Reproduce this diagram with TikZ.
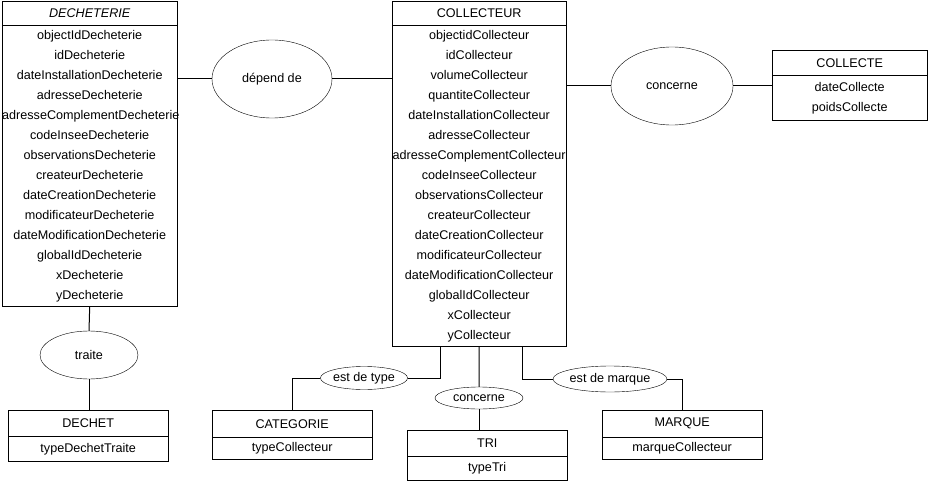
\documentclass[tikz,border=0pt]{standalone}
\usepackage{fontspec}
\setmainfont{Liberation Sans}
\usetikzlibrary{positioning, calc, shapes.geometric}

\tikzset{
  entete/.style={draw, inner sep=0pt, anchor=north west, font=\fontsize{12.6}{14}\selectfont},
  attributs/.style={draw, inner xsep=0pt, inner ysep=0pt, align=center, anchor=north, font=\fontsize{12.6}{20}\selectfont},
  asso/.style={draw, ellipse, inner sep=0pt, fill=white, font=\fontsize{12.6}{14}\selectfont},
  lien/.style={line width=1pt}
}

\begin{document}
\begin{tikzpicture}[x=1pt, y=-1pt]
  \useasboundingbox (0,0) rectangle (947,481);

  % entites
  \node[entete, minimum width=175pt, minimum height=24pt] (decheterie) at (2,1) {\itshape DECHETERIE};
  \node[attributs, text width=175pt, minimum height=281pt] (decheterie-att) at (decheterie.south)
    {objectIdDecheterie\\ idDecheterie\\ dateInstallationDecheterie\\ adresseDecheterie\\
     adresseComplementDecheterie\\ codeInseeDecheterie\\ observationsDecheterie\\ createurDecheterie\\
     dateCreationDecheterie\\ modificateurDecheterie\\ dateModificationDecheterie\\ globalIdDecheterie\\
     xDecheterie\\ yDecheterie};

  \node[entete, minimum width=174pt, minimum height=24pt] (collecteur) at (392,1) {COLLECTEUR};
  \node[attributs, text width=174pt, minimum height=321pt] (collecteur-att) at (collecteur.south)
    {objectidCollecteur\\ idCollecteur\\ volumeCollecteur\\ quantiteCollecteur\\
     dateInstallationCollecteur\\ adresseCollecteur\\ adresseComplementCollecteur\\ codeInseeCollecteur\\
     observationsCollecteur\\ createurCollecteur\\ dateCreationCollecteur\\ modificateurCollecteur\\
     dateModificationCollecteur\\ globalIdCollecteur\\ xCollecteur\\ yCollecteur};

  \node[entete, minimum width=155pt, minimum height=25pt] (collecte) at (772,50) {COLLECTE};
  \node[attributs, text width=155pt, minimum height=45pt] (collecte-att) at (collecte.south)
    {dateCollecte\\ poidsCollecte};

  \node[entete, minimum width=160pt, minimum height=26pt] (dechet) at (8,410) {DECHET};
  \node[attributs, text width=160pt, minimum height=25pt] (dechet-att) at (dechet.south) {typeDechetTraite};

  \node[entete, minimum width=160pt, minimum height=27pt] (categorie) at (212,410) {CATEGORIE};
  \node[attributs, text width=160pt, minimum height=22pt] (categorie-att) at (categorie.south) {typeCollecteur};

  \node[entete, minimum width=160pt, minimum height=26pt] (tri) at (407,430) {TRI};
  \node[attributs, text width=160pt, minimum height=24pt] (tri-att) at (tri.south) {typeTri};

  \node[entete, minimum width=160pt, minimum height=27pt] (marque) at (602,410) {MARQUE};
  \node[attributs, text width=160pt, minimum height=22pt] (marque-att) at (marque.south) {marqueCollecteur};

  % associations
  \node[asso, minimum width=120pt, minimum height=78pt] (dependde) at (272,79) {dépend de};
  \node[asso, minimum width=122pt, minimum height=78pt] (concerne-collecte) at (672,86) {concerne};
  \node[asso, minimum width=98pt, minimum height=48pt] (traite) at (89,355) {traite};
  \node[asso, minimum width=87pt, minimum height=23pt] (esttype) at (364,378) {est de type};
  \node[asso, minimum width=88pt, minimum height=22pt] (concerne-tri) at (479,398) {concerne};
  \node[asso, minimum width=88pt, minimum height=26pt] (estmarque) at (610,379) {est de marque};

  % liens
  \draw[lien] (dependde.west) -- (dependde.west -| decheterie-att.east);
  \draw[lien] (dependde.east) -- (dependde.east -| collecteur-att.west);
  \draw[lien] (concerne-collecte.west -| collecteur-att.east) -- (concerne-collecte.west);
  \draw[lien] (concerne-collecte.east) -- (concerne-collecte.east -| collecte-att.west);
  \draw[lien] (decheterie-att.south) -- (traite.north);
  \draw[lien] (traite.south) -- (traite.south |- dechet.north);
  \draw[lien] ($(collecteur-att.south)+(-39,0)$) |- (esttype.east);
  \draw[lien] (esttype.west) -| (categorie.north);
  \draw[lien] (collecteur-att.south) -- (concerne-tri.north);
  \draw[lien] (concerne-tri.south) -- (concerne-tri.south |- tri.north);
  \draw[lien] ($(collecteur-att.south)+(43,0)$) |- (estmarque.west);
  \draw[lien] (estmarque.east) -| (marque.north);
\end{tikzpicture}
\end{document}
